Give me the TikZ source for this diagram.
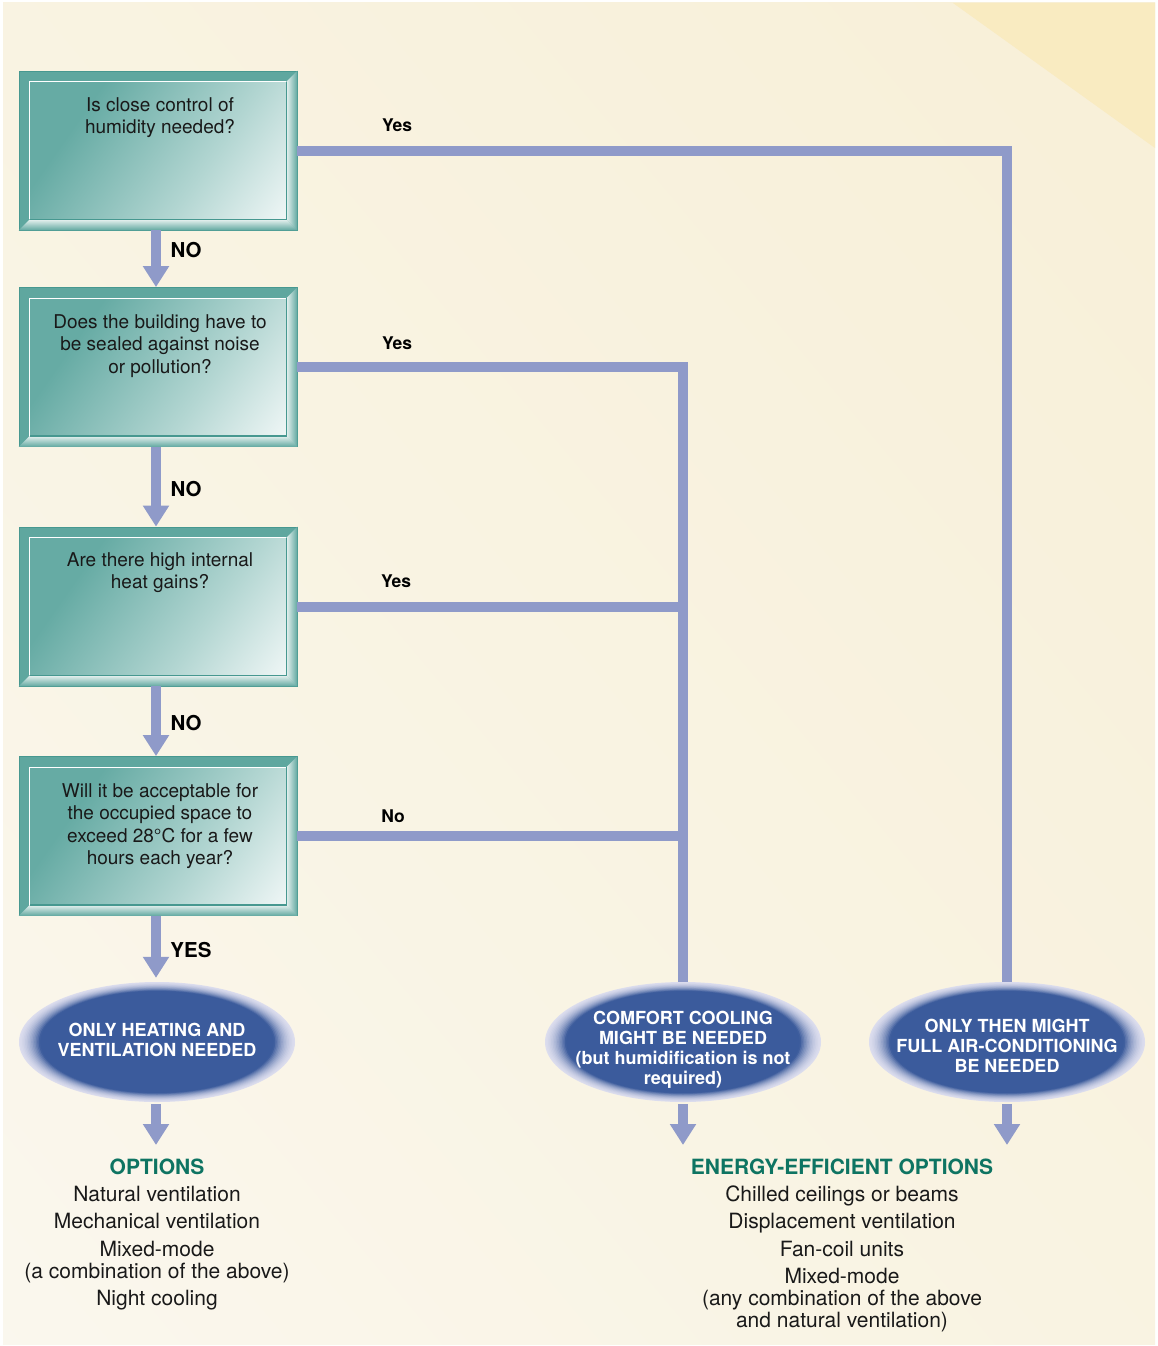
\documentclass[tikz,border=0pt]{standalone}
\usepackage{fontspec}
\setmainfont{TeX Gyre Heros}
\usetikzlibrary{arrows.meta,shapes.geometric,calc}
\definecolor{lineC}{HTML}{8F9AC9}
\definecolor{tealA}{HTML}{66ABA4}
\definecolor{tealB}{HTML}{B3D6D2}
\definecolor{tealW}{HTML}{F8FBFB}
\definecolor{tealD}{HTML}{479890}
\definecolor{frameA}{HTML}{5FA79F}
\definecolor{frameL}{HTML}{E6F1EF}
\definecolor{ellblue}{HTML}{3B5B9C}
\definecolor{ellpale}{HTML}{DCDDEE}
\definecolor{optG}{HTML}{0E7462}
\definecolor{bgA}{HTML}{F7EED3}
\definecolor{bgB}{HTML}{FBF9F3}
\definecolor{bgC}{HTML}{F9EBC1}
\pgfdeclarehorizontalshading{boxsh}{100bp}{color(0bp)=(tealA); color(30bp)=(tealA); color(62bp)=(tealB); color(88bp)=(tealW); color(100bp)=(tealW)}
\pgfdeclarehorizontalshading{bgsh}{100bp}{color(0bp)=(bgB); color(40bp)=(bgB!55!bgA); color(100bp)=(bgA)}
\tikzset{
  qbox/.style={rectangle, minimum width=278pt, minimum height=159pt, inner sep=0pt,
    draw=tealD, line width=0.8pt, fill=frameA},
  qinner/.style={shading=boxsh, shading angle=-35},
  qtext/.style={anchor=north, align=center, inner sep=0pt, text=black!90,
    font=\fontsize{19}{22.5}\selectfont},
  ell/.style={ellipse, minimum width=276pt, minimum height=120pt, inner sep=0pt},
  elltext/.style={align=center, inner sep=0pt, text=white,
    font=\bfseries\fontsize{18}{20}\selectfont},
  flowarrow/.style={draw=lineC, line width=10pt, -{Triangle[width=25pt,length=21pt]}},
  conn/.style={draw=lineC, line width=10pt, line join=miter},
  yeslab/.style={font=\bfseries\fontsize{17.5}{20}\selectfont, inner sep=0pt},
  nolab/.style={font=\bfseries\fontsize{20.5}{22}\selectfont, inner sep=0pt},
  listtext/.style={anchor=north, align=center, inner sep=0pt, text=black!90,
    font=\fontsize{21}{22}\selectfont},
}
\begin{document}
\begin{tikzpicture}[x=1pt,y=-1pt]
\useasboundingbox (0,0) rectangle (1157,1346);
\fill[white] (0,0) rectangle (1157,1346);
\shade[shading=bgsh, shading angle=40] (3,3) rectangle (1155,1344);
\fill[bgC] (953,3) -- (1155,3) -- (1155,148) -- cycle;

% question boxes
\foreach \n/\y in {b1/150.5, b2/367, b3/606.5, b4/836}{
  \node[qbox] (\n) at (158,\y) {};
  \coordinate (\n iNW) at ($(\n.north west)+(11,11)$);
  \coordinate (\n iSE) at ($(\n.south east)+(-11,-11)$);
  \shade[top color=frameL, bottom color=frameA]
    (\n.south west) -- (\n.south east) -- (\n iSE) -- (\n iNW |- \n iSE) -- cycle;
  \shade[left color=frameL, right color=frameA]
    (\n.north east) -- (\n.south east) -- (\n iSE) -- (\n iSE |- \n iNW) -- cycle;
  \shade[qinner] (\n iNW) rectangle (\n iSE);
  \draw[white, line width=1.2pt] (\n iNW |- \n iSE) -- (\n iNW) -- (\n iSE |- \n iNW);
  \draw[tealD, line width=1.2pt] (\n iSE |- \n iNW) -- (\n iSE) -- (\n iNW |- \n iSE);
}
\node[qtext] (t1) at (160,97) {Is close control of\\humidity needed?};
\node[qtext] (t2) at (160,314) {Does the building have to\\be sealed against noise\\or pollution?};
\node[qtext] (t3) at (160,552) {Are there high internal\\heat gains?};
\node[qtext] (t4) at (160,783) {Will it be acceptable for\\the occupied space to\\exceed 28\textdegree C for a few\\hours each year?};

% outcome ellipses
\node[ell] (e1) at (157,1042) {};
\node[ell] (e2) at (683,1042) {};
\node[ell] (e3) at (1007,1042) {};
\foreach \e in {e1,e2,e3}{
  \foreach \k in {0,...,16}{
    \pgfmathsetmacro{\s}{1-0.011*\k}
    \pgfmathsetmacro{\p}{min(100,\k*\k*0.42+2*\k)}
    \fill[ellblue!\p!ellpale] (\e) ellipse [x radius=138*\s, y radius=60*\s];
  }
}
\node[elltext] (et1) at (157,1040) {ONLY HEATING AND\\VENTILATION NEEDED};
\node[elltext] (et2) at (683,1050) {COMFORT COOLING\\MIGHT BE NEEDED\\(but humidification is not\\required)};
\node[elltext] (et3) at (1007,1046) {ONLY THEN MIGHT\\FULL AIR-CONDITIONING\\BE NEEDED};

% connectors
\draw[conn] (b1.east) -| (e3.north);
\draw[conn] (b2.east) -| (e2.north);
\draw[conn] (b3.east) -- (b3.east -| e2.north);
\draw[conn] (b4.east) -- (b4.east -| e2.north);

\draw[flowarrow] ($(b1.south)+(-2,0)$) -- ($(b2.north)+(-2,0)$);
\draw[flowarrow] ($(b2.south)+(-2,0)$) -- ($(b3.north)+(-2,0)$);
\draw[flowarrow] ($(b3.south)+(-2,0)$) -- ($(b4.north)+(-2,0)$);
\draw[flowarrow] ($(b4.south)+(-2,0)$) -- ($(e1.north)+(-1,-4)$);

\coordinate (o1) at (156,1145);
\coordinate (o2) at (683,1145);
\coordinate (o3) at (1007,1145);
\draw[flowarrow] ($(e1.south)+(-1,2)$) -- (o1);
\draw[flowarrow] ($(e2.south)+(0,2)$) -- (o2);
\draw[flowarrow] ($(e3.south)+(0,2)$) -- (o3);

% labels
\node[yeslab] (l1) at (397,125) {Yes};
\node[yeslab] (l2) at (397,343) {Yes};
\node[yeslab] (l3) at (396,581) {Yes};
\node[yeslab] (l4) at (393,816) {No};
\node[nolab] (m1) at (186,250) {NO};
\node[nolab] (m2) at (186,489) {NO};
\node[nolab] (m3) at (186,723) {NO};
\node[nolab] (m4) at (191,950) {YES};

% option lists
\node[listtext] (opt1) at (157,1159) {\textcolor{optG}{\bfseries OPTIONS}\\[5pt]Natural ventilation\\[5pt]Mechanical ventilation\\[6pt]Mixed-mode\\(a combination of the above)\\[5pt]Night cooling};
\node[listtext] (opt2) at (842,1159) {\textcolor{optG}{\bfseries ENERGY-EFFICIENT OPTIONS}\\[5pt]Chilled ceilings or beams\\[5pt]Displacement ventilation\\[6pt]Fan-coil units\\[5pt]Mixed-mode\\(any combination of the above\\and natural ventilation)};
\end{tikzpicture}
\end{document}
